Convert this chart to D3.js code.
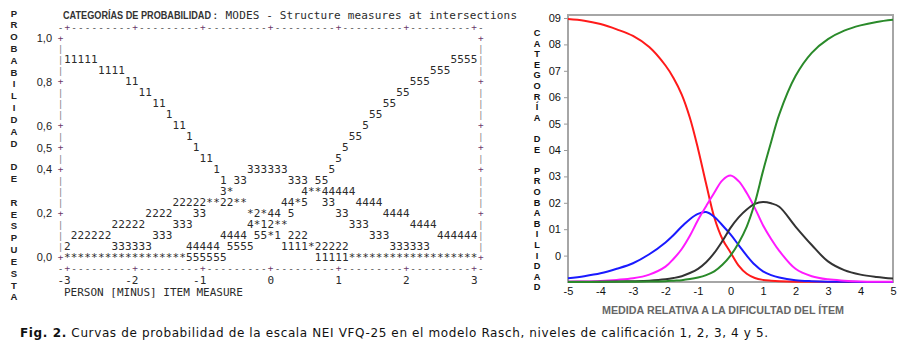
<!DOCTYPE html>
<html><head><meta charset="utf-8">
<script src="https://cdn.jsdelivr.net/npm/d3@7"></script>
<style>body{margin:0;background:#fff}svg{display:block}</style>
</head><body><svg id="c" width="901" height="360"></svg>
<script>
// ===== Left panel: ASCII probability plot (Winsteps style) =====
const asciiTitleBold = "CATEGORÍAS DE PROBABILIDAD";
const asciiTitleMono = ": MODES - Structure measures at intersections";
const asciiYTicks = [1.0, 0.8, 0.6, 0.5, 0.4, 0.2, 0.0];
const asciiYLabels = ["1,0", "0,8", "0,6", "0,5", "0,4", "0,2", "0,0"];
const asciiXTicks = [-3, -2, -1, 0, 1, 2, 3];
const asciiXLabels = ["-3", "-2", "-1", "0", "1", "2", "3"];
const asciiXTitle = "PERSON [MINUS] ITEM MEASURE";
const asciiYTitle = "PROBABILIDAD DE RESPUESTA";
// [probability, starting measure, glyph run]
const asciiMarks = [
  [0.90, -3.0, "11111"], [0.90, 2.7, "5555"],
  [0.85, -2.5, "1111"], [0.85, 2.4, "555"],
  [0.80, -2.1, "11"], [0.80, 2.1, "555"],
  [0.75, -1.9, "11"], [0.75, 1.9, "55"],
  [0.70, -1.7, "11"], [0.70, 1.7, "55"],
  [0.65, -1.5, "1"], [0.65, 1.5, "55"],
  [0.60, -1.4, "11"], [0.60, 1.4, "5"],
  [0.55, -1.2, "1"], [0.55, 1.2, "55"],
  [0.50, -1.1, "1"], [0.50, 1.1, "5"],
  [0.45, -1.0, "11"], [0.45, 1.0, "5"],
  [0.40, -0.8, "1"], [0.40, -0.3, "333333"], [0.40, 0.9, "5"],
  [0.35, -0.7, "1 33"], [0.35, 0.3, "333 55"],
  [0.30, -0.7, "3*"], [0.30, 0.5, "4**44444"],
  [0.25, -1.4, "22222**22**"], [0.25, 0.2, "44*5  33   4444"],
  [0.20, -1.8, "2222"], [0.20, -1.1, "33"], [0.20, -0.3, "*2*44 5"], [0.20, 1.0, "33"], [0.20, 1.7, "4444"],
  [0.15, -2.3, "22222"], [0.15, -1.4, "333"], [0.15, -0.3, "4*12**"], [0.15, 1.2, "333"], [0.15, 2.1, "4444"],
  [0.10, -2.9, "222222"], [0.10, -1.7, "333"], [0.10, -0.7, "4444 55*1 222"], [0.10, 1.5, "333"], [0.10, 2.5, "444444"],
  [0.05, -3.0, "2"], [0.05, -2.3, "333333"], [0.05, -1.2, "44444 5555"], [0.05, 0.2, "1111*22222"], [0.05, 1.8, "333333"],
  [0.00, -3.0, "******************555555"], [0.00, 0.7, "11111*******************"]
];

// ===== Right panel: category probability curves =====
const theta = [-5, -4.5, -4, -3.5, -3, -2.5, -2, -1.75, -1.5, -1.25, -1, -0.75, -0.5, -0.25, 0, 0.25, 0.5, 0.75, 1, 1.25, 1.5, 2, 2.5, 3, 3.5, 4, 4.5, 5];
const cat1 = [0.996, 0.99, 0.977, 0.957, 0.932, 0.89, 0.82, 0.772, 0.71, 0.622, 0.505, 0.372, 0.245, 0.163, 0.112, 0.062, 0.031, 0.015, 0.008, 0.005, 0.003, 0.001, 0.001, 0, 0, 0, 0, 0];
const cat2 = [0.014, 0.022, 0.033, 0.05, 0.071, 0.105, 0.15, 0.178, 0.21, 0.238, 0.258, 0.265, 0.247, 0.215, 0.18, 0.14, 0.1, 0.065, 0.04, 0.026, 0.017, 0.007, 0.003, 0.001, 0.001, 0, 0, 0];
const cat3 = [0.001, 0.002, 0.004, 0.008, 0.014, 0.028, 0.058, 0.088, 0.125, 0.175, 0.235, 0.287, 0.338, 0.385, 0.403, 0.382, 0.337, 0.28, 0.215, 0.163, 0.118, 0.05, 0.022, 0.01, 0.005, 0.002, 0.001, 0.001];
const cat4 = [0.0005, 0.001, 0.001, 0.002, 0.003, 0.005, 0.01, 0.015, 0.022, 0.034, 0.05, 0.075, 0.11, 0.155, 0.205, 0.245, 0.275, 0.296, 0.303, 0.298, 0.285, 0.21, 0.14, 0.078, 0.045, 0.028, 0.019, 0.013];
const cat5 = [0, 0, 0.0005, 0.001, 0.001, 0.002, 0.003, 0.005, 0.007, 0.011, 0.017, 0.026, 0.04, 0.065, 0.1, 0.148, 0.21, 0.3, 0.42, 0.53, 0.635, 0.78, 0.868, 0.92, 0.952, 0.972, 0.985, 0.993];
const seriesColors = ["#ff1a1a", "#1a1aff", "#ff1aff", "#333333", "#2a8a2a"];
const xTickVals = [-5, -4, -3, -2, -1, 0, 1, 2, 3, 4, 5];
const yTickVals = [0.1, 0.2, 0.3, 0.4, 0.5, 0.6, 0.7, 0.8, 0.9, 1.0];
const yTickLabels = ["0", "01", "02", "03", "04", "05", "06", "07", "08", "09"];
const rightYTitle = "CATEGORÍA DE PROBABILIDAD";
const rightXTitle = "MEDIDA RELATIVA A LA DIFICULTAD DEL ÍTEM";
const caption = ["Fig. 2.", " Curvas de probabilidad de la escala NEI VFQ-25 en el modelo Rasch, niveles de calificación 1, 2, 3, 4 y 5."];

const svg = d3.select("#c");
svg.append("rect").attr("width", 901).attr("height", 360).attr("fill", "#fff");

// ---------- Left panel ----------
const MONO = "'DejaVu Sans Mono', 'Liberation Mono', monospace";
const SANS = "'Liberation Sans', Arial, sans-serif";
const xA = d3.scaleLinear().domain([-3, 3]).range([67.3, 474.1]);
const yA = d3.scaleLinear().domain([0, 1]).range([257, 38]);
const step = 0.1;      // one character cell in measure units
const rowStep = 0.05;  // one text row in probability units
const ink = "#2b2b2b";
const FRAME_FS = 9.4;
const L = svg.append("g");
function glyph(x, y, ch, color, fs) {
  L.append("text").attr("x", x).attr("y", y).attr("text-anchor", "middle")
    .attr("dominant-baseline", "central").attr("font-family", MONO).attr("font-size", fs || 11)
    .attr("fill", color || ink).text(ch);
}
// vertical frame (left & right)
const tickSet = new Set(asciiYTicks.map(v => v.toFixed(2)));
d3.range(0, 21).map(i => +(i * rowStep).toFixed(2)).forEach(v => {
  const isTick = tickSet.has(v.toFixed(2));
  const ch = isTick ? "+" : "|";
  const col = isTick ? "#6a3a6a" : "#888";
  glyph(xA(-3 - step), yA(v), ch, col, FRAME_FS);
  glyph(xA(3 + step), yA(v), ch, col, FRAME_FS);
});
// horizontal axis lines (top and bottom)
[[1 + rowStep, 0.5], [-rowStep, 1.0]].forEach(([v, dy]) => {
  d3.range(-31, 32).map(i => i * step).forEach(m => {
    const isT = asciiXTicks.some(t => Math.abs(t - m) < 1e-6);
    glyph(xA(m), yA(v) + dy, isT ? "+" : "-", isT ? "#6a3a6a" : "#444", FRAME_FS);
  });
});
// marks
asciiMarks.forEach(([p, m, s]) => {
  [...s].forEach((ch, i) => { if (ch !== " ") glyph(xA(m + i * step), yA(p), ch); });
});
// y labels
asciiYTicks.forEach((v, i) => {
  L.append("text").attr("x", 52).attr("y", yA(v)).attr("text-anchor", "end")
    .attr("dominant-baseline", "central").attr("font-family", SANS).attr("font-size", 11)
    .attr("fill", "#222").text(asciiYLabels[i]);
});
// x labels
asciiXTicks.forEach((v, i) => {
  L.append("text").attr("x", xA(v) + 3.4).attr("y", yA(-2 * rowStep) + 1.8).attr("text-anchor", "end")
    .attr("dominant-baseline", "central").attr("font-family", MONO).attr("font-size", 11)
    .attr("fill", ink).text(asciiXLabels[i]);
});
L.append("text").attr("x", 64).attr("y", yA(-3 * rowStep) + 2.2).attr("dominant-baseline", "central")
  .attr("font-family", MONO).attr("font-size", 11).attr("fill", ink).text(asciiXTitle);
// title
L.append("text").attr("x", 63).attr("y", 15.5).attr("dominant-baseline", "central")
  .attr("font-family", SANS).attr("font-weight", "bold").attr("font-size", 10)
  .attr("textLength", 148).attr("lengthAdjust", "spacingAndGlyphs").attr("fill", "#333").text(asciiTitleBold);
L.append("text").attr("x", 212).attr("y", 15.5).attr("dominant-baseline", "central")
  .attr("font-family", MONO).attr("font-size", 11).attr("fill", ink).style("white-space", "pre")
  .attr("textLength", 305).attr("lengthAdjust", "spacing").text(asciiTitleMono);
// vertical y title
[...asciiYTitle].forEach((ch, i) => {
  if (ch === " ") return;
  L.append("text").attr("x", 14).attr("y", 13 + i * 11.83).attr("text-anchor", "middle")
    .attr("dominant-baseline", "central").attr("font-family", SANS).attr("font-weight", "bold")
    .attr("font-size", 9.5).attr("fill", "#222").text(ch);
});

// ---------- Right panel ----------
const xR = d3.scaleLinear().domain([-5, 5]).range([568, 893]);
const yR = d3.scaleLinear().domain([0, 1]).range([282, 18]);
const R = svg.append("g");
R.append("rect").attr("x", 568).attr("y", 15).attr("width", 893 - 568).attr("height", 282 - 15)
  .attr("fill", "none").attr("stroke", "#a6a6a6").attr("stroke-width", 2);
const yAxis = d3.axisLeft(yR).tickValues(yTickVals).tickSize(4).tickPadding(3)
  .tickFormat((d, i) => yTickLabels[i]);
const gy = R.append("g").attr("transform", "translate(568,0)").call(yAxis);
gy.select(".domain").remove();
gy.selectAll("line").attr("stroke", "#999");
gy.selectAll("text").attr("font-family", SANS).attr("font-size", 11).attr("fill", "#111");
const xAxis = d3.axisBottom(xR).tickValues(xTickVals).tickSize(0).tickPadding(5).tickFormat(d3.format("d"));
const gx = R.append("g").attr("transform", "translate(0,282)").call(xAxis);
gx.select(".domain").remove();
gx.selectAll("text").attr("font-family", SANS).attr("font-size", 11).attr("fill", "#111")
  .text(d => (d < 0 ? "-" + Math.abs(d) : String(d)));
const cats = [cat1, cat2, cat3, cat4, cat5];
const line = d3.line().x((d, i) => xR(theta[i])).y(d => yR(d)).curve(d3.curveCatmullRom.alpha(0.5));
cats.forEach((vals, k) => {
  R.append("path").datum(vals).attr("d", line).attr("fill", "none")
    .attr("stroke", seriesColors[k]).attr("stroke-width", 2);
});
[...rightYTitle].forEach((ch, i) => {
  if (ch === " ") return;
  R.append("text").attr("x", 537).attr("y", 33 + i * 10.6).attr("text-anchor", "middle")
    .attr("dominant-baseline", "central").attr("font-family", SANS).attr("font-weight", "bold")
    .attr("font-size", 9.2).attr("fill", "#111").text(ch);
});
R.append("text").attr("x", 602).attr("y", 310).attr("dominant-baseline", "central")
  .attr("font-family", SANS).attr("font-weight", "bold").attr("font-size", 10)
  .attr("textLength", 242).attr("lengthAdjust", "spacingAndGlyphs").attr("fill", "#666").text(rightXTitle);

// ---------- Caption ----------
const cap = svg.append("text").attr("x", 20).attr("y", 333).attr("dominant-baseline", "central")
  .attr("font-family", "'DejaVu Sans', Verdana, sans-serif").attr("font-size", 12).attr("fill", "#111")
  .attr("textLength", 748).attr("lengthAdjust", "spacing");
cap.append("tspan").attr("font-weight", "bold").text(caption[0]);
cap.append("tspan").text(caption[1]);
</script></body></html>
